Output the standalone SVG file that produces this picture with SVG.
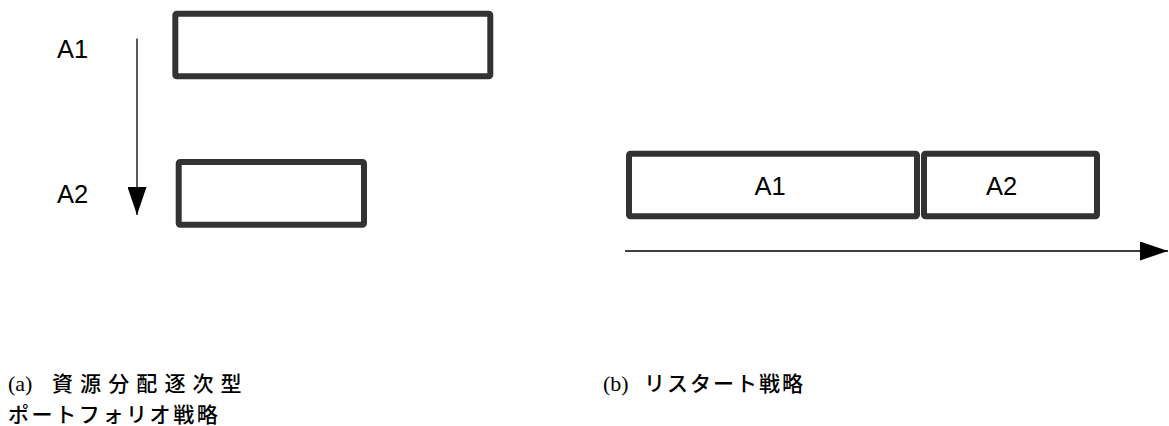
<svg xmlns="http://www.w3.org/2000/svg" width="1169" height="426" viewBox="0 0 1169 426">
<style>
.box{fill:#fff;stroke:#333;stroke-width:6;stroke-linejoin:round}
.lbl{font-family:"Liberation Sans",Arial,sans-serif;font-size:25.5px;fill:#000}
.conn{stroke:#000;stroke-width:1.3;fill:none}
.cap{font-family:"Noto Sans CJK JP","Noto Sans",sans-serif;font-size:21px;font-weight:500;fill:#000}
.ser{font-family:"Liberation Serif","Times New Roman",serif;font-size:22px;fill:#000}
</style>
<defs>
<marker id="ah" markerUnits="userSpaceOnUse" markerWidth="28" markerHeight="19" refX="28" refY="9.5" orient="auto">
<path d="M0,0 L28,9.5 L0,19 Z" fill="#000"/>
</marker>
</defs>
<g id="connectors">
<line class="conn" x1="137" y1="38.5" x2="137" y2="215" marker-end="url(#ah)"/>
<line class="conn" x1="625" y1="251" x2="1168" y2="251" marker-end="url(#ah)"/>
</g>
<g id="a-A1">
<rect class="box" x="175.3" y="13.7" width="315" height="62.6" rx="1.5"/>
<text class="lbl" x="57" y="58.3">A1</text>
</g>
<g id="a-A2">
<rect class="box" x="178.7" y="162" width="185.3" height="62.7" rx="1.5"/>
<text class="lbl" x="57" y="203.3">A2</text>
</g>
<g id="b-A1">
<rect class="box" x="629" y="153.7" width="288" height="62.6" rx="1.5"/>
<text class="lbl" x="770" y="195" text-anchor="middle">A1</text>
</g>
<g id="b-A2">
<rect class="box" x="924" y="153.7" width="173" height="62.6" rx="1.5"/>
<text class="lbl" x="1001.7" y="195" text-anchor="middle">A2</text>
</g>
<g id="caption-a">
<text class="ser" x="8" y="391">(a)</text>
<text class="cap" x="52" y="391" letter-spacing="7.1">資源分配逐次型</text>
<text class="cap" x="8" y="422" letter-spacing="2.6">ポートフォリオ戦略</text>
</g>
<g id="caption-b">
<text class="ser" x="603" y="391">(b)</text>
<text class="cap" x="644" y="391" letter-spacing="2">リスタート戦略</text>
</g>
</svg>
